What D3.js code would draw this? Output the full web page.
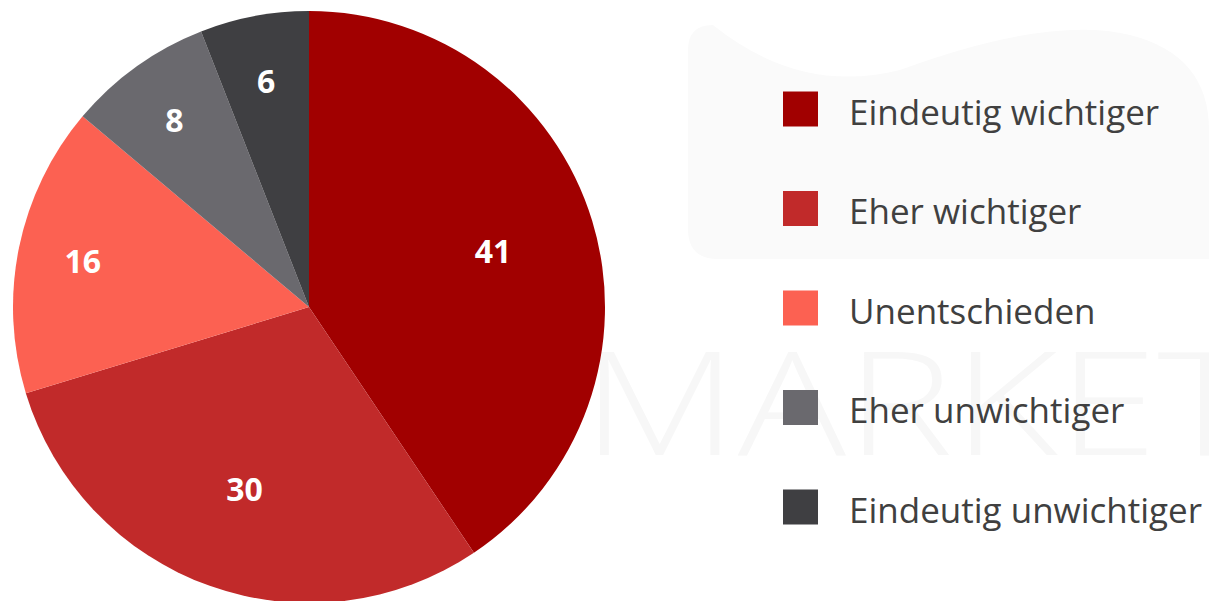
<!DOCTYPE html>
<html>
<head>
<meta charset="utf-8">
<script src="https://cdn.jsdelivr.net/npm/d3@7"></script>
<style>
  html, body { margin: 0; padding: 0; background: #fff; }
  svg { display: block; font-family: "Open Sans", sans-serif; }
</style>
</head>
<body>
<svg id="chart" width="1209" height="601"></svg>
<script>
// answers and their shares (percent)
const categories = [
  "Eindeutig wichtiger",
  "Eher wichtiger",
  "Unentschieden",
  "Eher unwichtiger",
  "Eindeutig unwichtiger"
];
const values = [41, 30, 16, 8, 6];
const colors = ["#a10000", "#c12a2a", "#fc6152", "#6a696e", "#3f3f42"];

const svg = d3.select("#chart");

// faint watermark in the background
const mark = svg.append("g").attr("class", "watermark");
mark.append("path")
  .attr("d", "M688,50 Q688,25 713,25 Q800,95 900,70 Q1050,15 1130,35 Q1209,55 1209,130 L1209,259 L718,259 Q688,259 688,229 Z")
  .attr("fill", "#fafafa");
mark.append("text")
  .attr("x", 582)
  .attr("y", 455)
  .attr("font-size", 144)
  .attr("font-weight", 300)
  .attr("textLength", 670)
  .attr("lengthAdjust", "spacingAndGlyphs")
  .attr("fill", "#f7f7f7")
  .text("MARKET");

const cx = 309;
const cy = 307;
const radius = 296;

const pie = d3.pie().sort(null).value(d => d);
const arcs = pie(values);
const arc = d3.arc().innerRadius(0).outerRadius(radius);

// big slices get their label pulled further in
const labelPos = d => {
  const r = (d.endAngle - d.startAngle) > 1.5 ? radius * 0.65 : radius * 0.78;
  return d3.arc().innerRadius(r).outerRadius(r).centroid(d);
};

const g = svg.append("g").attr("transform", `translate(${cx},${cy})`);

g.selectAll("path")
  .data(arcs)
  .enter()
  .append("path")
  .attr("d", arc)
  .attr("fill", (d, i) => colors[i]);

g.selectAll("text")
  .data(arcs)
  .enter()
  .append("text")
  .attr("transform", d => `translate(${labelPos(d)})`)
  .attr("text-anchor", "middle")
  .attr("dominant-baseline", "central")
  .attr("font-size", 32)
  .attr("font-weight", 700)
  .attr("fill", "#ffffff")
  .text(d => d.data);

// legend
const legendY = d3.scalePoint()
  .domain(categories)
  .range([109, 507]);

const legend = svg.append("g").attr("class", "legend");
const items = legend.selectAll("g")
  .data(categories)
  .enter()
  .append("g")
  .attr("transform", d => `translate(783,${legendY(d)})`);

items.append("rect")
  .attr("x", 0)
  .attr("y", -17.5)
  .attr("width", 35)
  .attr("height", 35)
  .attr("fill", (d, i) => colors[i]);

items.append("text")
  .attr("x", 66)
  .attr("y", 15.5)
  .attr("font-size", 35)
  .attr("fill", "#404040")
  .text(d => d);
</script>
</body>
</html>
